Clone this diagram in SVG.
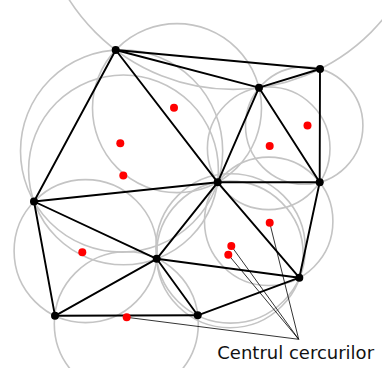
<svg xmlns="http://www.w3.org/2000/svg" width="382" height="368" viewBox="0 0 382 368">
<style>
.circ{fill:none;stroke:#c4c4c4;stroke-width:1.6}
.edge{stroke:#000;stroke-width:1.9;stroke-linecap:round}
.lead{stroke:#000;stroke-width:0.8}
.v{fill:#000}
.c{fill:#ff0000}
.lbl{font-family:"DejaVu Sans",Verdana,sans-serif;font-size:18px;fill:#111}
</style>
<rect width="382" height="368" fill="#fff"/>
<g id="circles">
<circle class="circ" cx="233.2" cy="-105.4" r="194.8"/>
<circle class="circ" cx="177" cy="108.1" r="84.5"/>
<circle class="circ" cx="121.6" cy="151" r="101.1"/>
<circle class="circ" cx="304.2" cy="125.6" r="58.7"/>
<circle class="circ" cx="268.7" cy="148.3" r="61.3"/>
<circle class="circ" cx="268.7" cy="221.3" r="64.2"/>
<circle class="circ" cx="229.9" cy="254.4" r="73.3"/>
<circle class="circ" cx="230.6" cy="248.4" r="74.7"/>
<circle class="circ" cx="123.5" cy="169.9" r="94.9"/>
<circle class="circ" cx="85.6" cy="251.1" r="71.5"/>
<circle class="circ" cx="126.3" cy="323.8" r="72"/>
</g>
<g id="connectors">
<line class="edge" x1="115.7" y1="50" x2="320" y2="69"/>
<line class="edge" x1="115.7" y1="50" x2="259" y2="87.7"/>
<line class="edge" x1="115.7" y1="50" x2="217.7" y2="182.3"/>
<line class="edge" x1="115.7" y1="50" x2="34" y2="201.5"/>
<line class="edge" x1="259" y1="87.7" x2="320" y2="69"/>
<line class="edge" x1="259" y1="87.7" x2="217.7" y2="182.3"/>
<line class="edge" x1="259" y1="87.7" x2="319.7" y2="182.3"/>
<line class="edge" x1="320" y1="69" x2="319.7" y2="182.3"/>
<line class="edge" x1="217.7" y1="182.3" x2="319.7" y2="182.3"/>
<line class="edge" x1="34" y1="201.5" x2="217.7" y2="182.3"/>
<line class="edge" x1="34" y1="201.5" x2="156.7" y2="258.8"/>
<line class="edge" x1="217.7" y1="182.3" x2="156.7" y2="258.8"/>
<line class="edge" x1="217.7" y1="182.3" x2="299.3" y2="277.7"/>
<line class="edge" x1="319.7" y1="182.3" x2="299.3" y2="277.7"/>
<line class="edge" x1="34" y1="201.5" x2="55" y2="315.8"/>
<line class="edge" x1="55" y1="315.8" x2="156.7" y2="258.8"/>
<line class="edge" x1="156.7" y1="258.8" x2="197.7" y2="315.3"/>
<line class="edge" x1="55" y1="315.8" x2="197.7" y2="315.3"/>
<line class="edge" x1="156.7" y1="258.8" x2="299.3" y2="277.7"/>
<line class="edge" x1="197.7" y1="315.3" x2="299.3" y2="277.7"/>
<line class="lead" x1="298.7" y1="339.3" x2="269.7" y2="222.7"/>
<line class="lead" x1="298.7" y1="339.3" x2="231.3" y2="246"/>
<line class="lead" x1="298.7" y1="339.3" x2="228.3" y2="254.7"/>
<line class="lead" x1="298.7" y1="339.3" x2="126.7" y2="317.3"/>
</g>
<g id="vertices">
<circle id="vA" class="v" cx="115.7" cy="50" r="4"/>
<circle id="vB" class="v" cx="320" cy="69" r="4"/>
<circle id="vC" class="v" cx="259" cy="87.7" r="4"/>
<circle id="vD" class="v" cx="217.7" cy="182.3" r="4"/>
<circle id="vE" class="v" cx="319.7" cy="182.3" r="4"/>
<circle id="vF" class="v" cx="34" cy="201.5" r="4"/>
<circle id="vG" class="v" cx="156.7" cy="258.8" r="4"/>
<circle id="vH" class="v" cx="299.3" cy="277.7" r="4"/>
<circle id="vI" class="v" cx="55" cy="315.8" r="4"/>
<circle id="vJ" class="v" cx="197.7" cy="315.3" r="4"/>
</g>
<g id="centers">
<circle class="c" cx="174" cy="107.7" r="4"/>
<circle class="c" cx="120.3" cy="143.3" r="4"/>
<circle class="c" cx="123.3" cy="175.5" r="4"/>
<circle class="c" cx="307.5" cy="125.5" r="4"/>
<circle class="c" cx="269.7" cy="146" r="4"/>
<circle class="c" cx="269.7" cy="222.7" r="4"/>
<circle class="c" cx="231.3" cy="246" r="4"/>
<circle class="c" cx="228.3" cy="254.7" r="4"/>
<circle class="c" cx="82.3" cy="252.3" r="4"/>
<circle class="c" cx="126.7" cy="317.3" r="4"/>
</g>
<g id="label">
<text class="lbl" x="217.3" y="359.3">Centrul cercurilor</text>
</g>
</svg>
